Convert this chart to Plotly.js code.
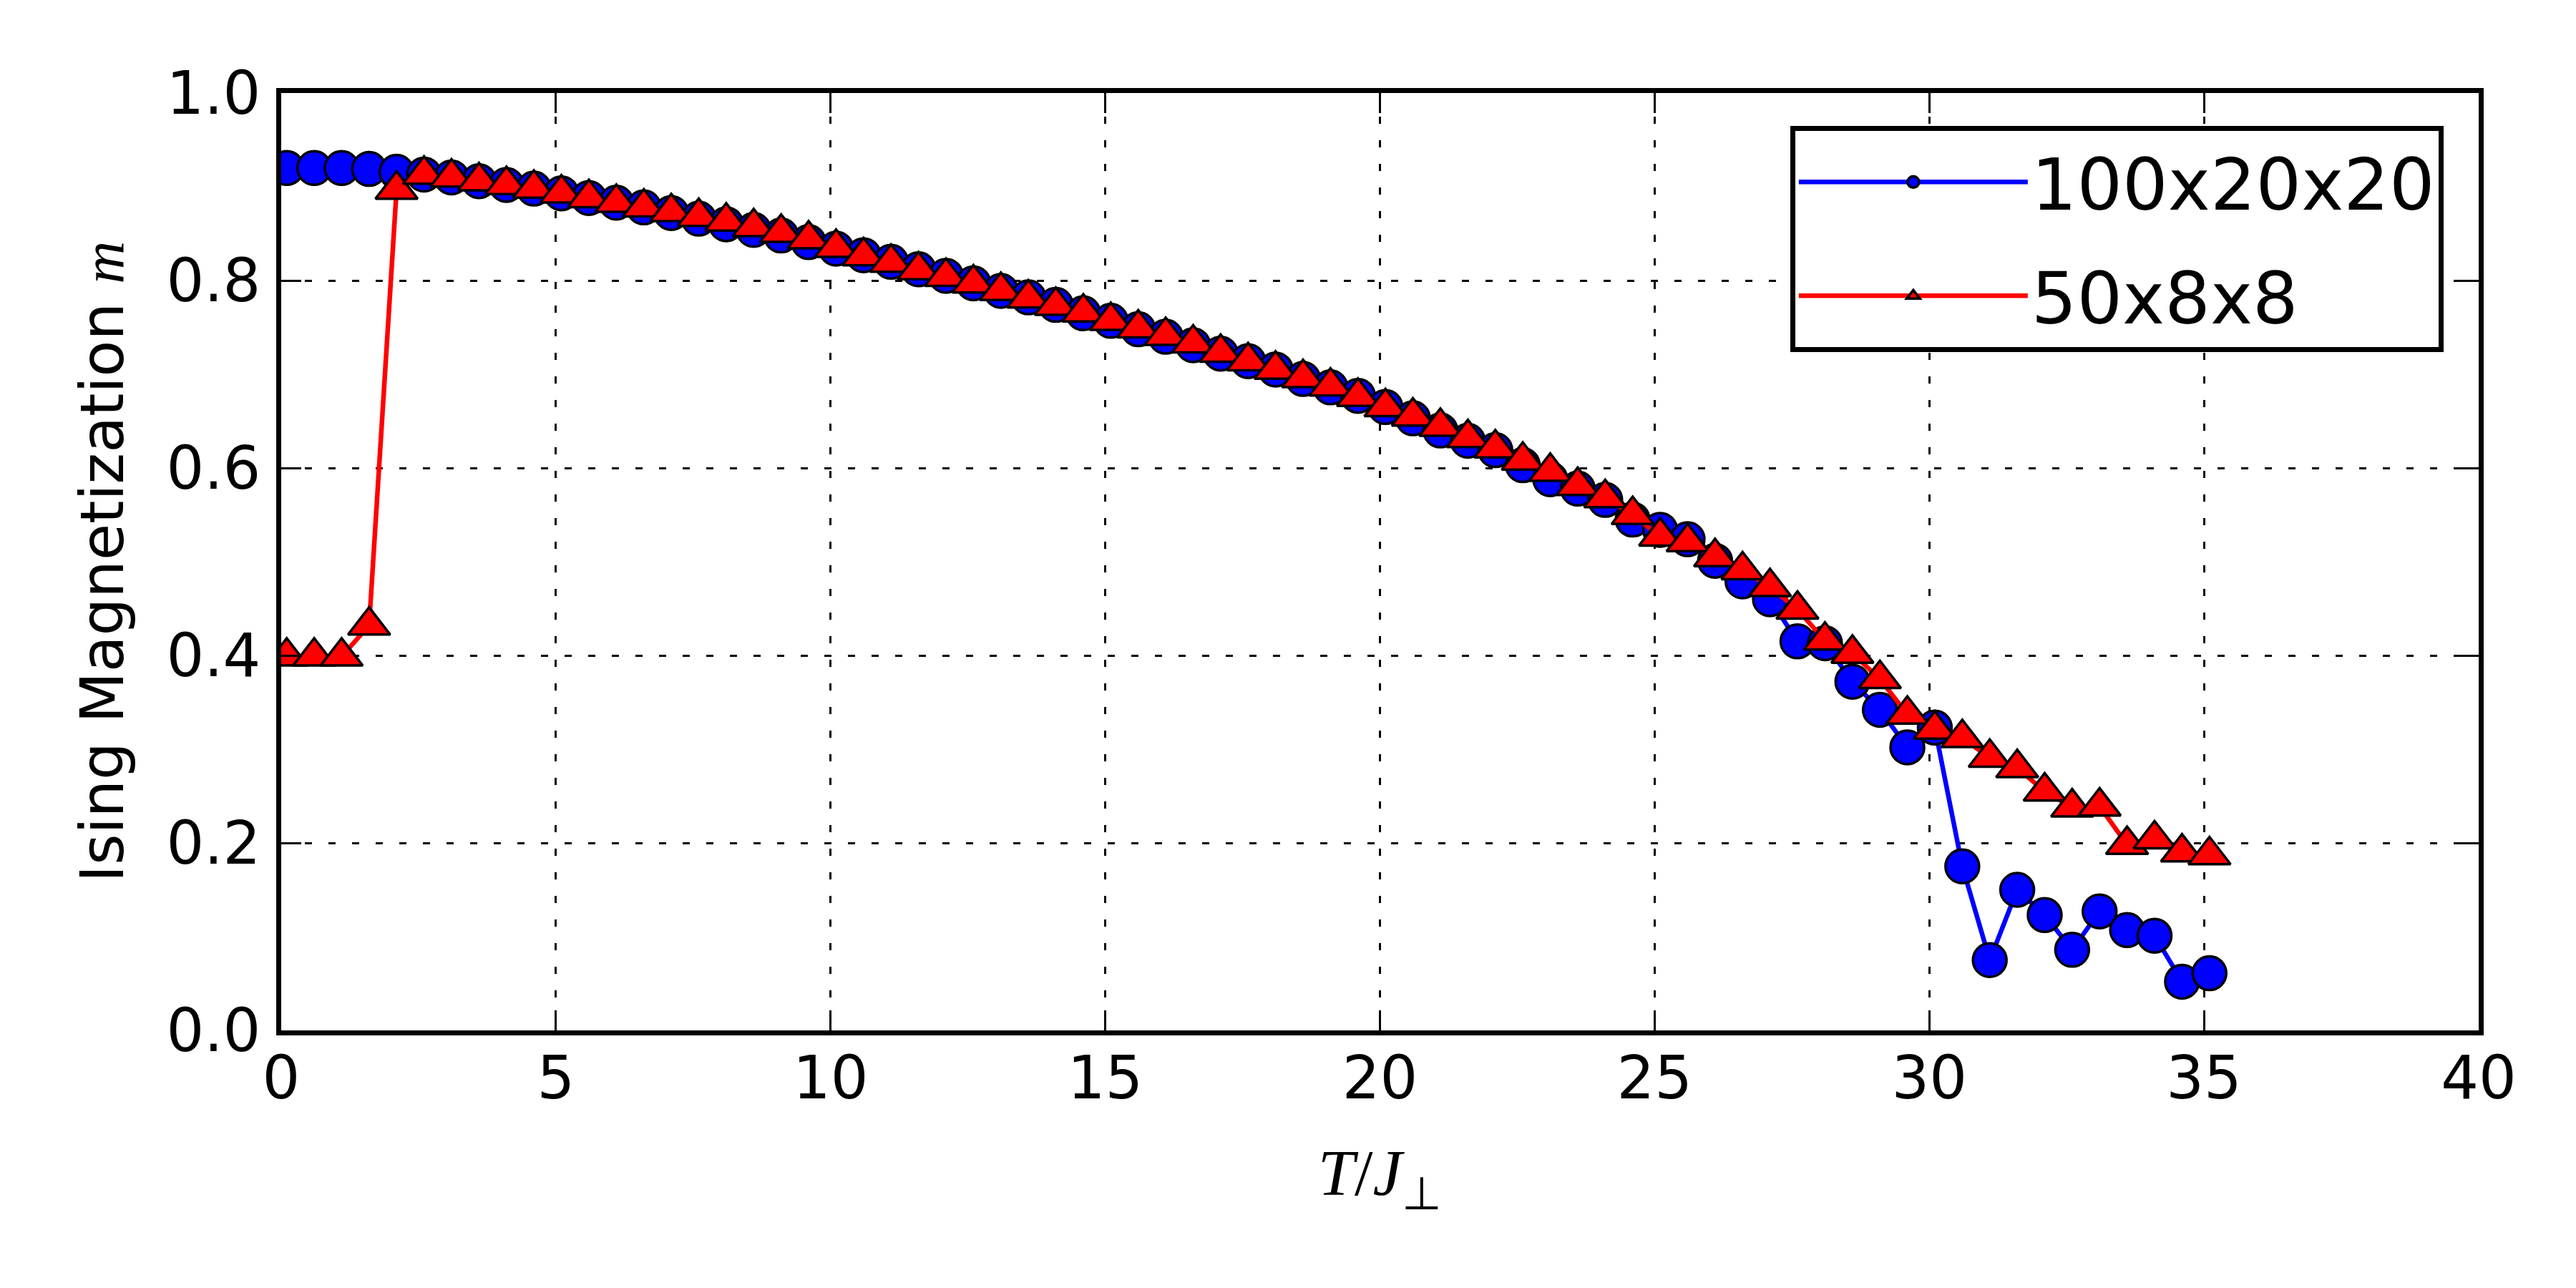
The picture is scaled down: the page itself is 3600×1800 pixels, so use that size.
<!DOCTYPE html>
<html>
<head>
<meta charset="utf-8">
<script src="https://cdn.plot.ly/plotly-3.0.1.min.js"></script>
<style>
  html, body { margin: 0; padding: 0; background: #ffffff; }
  #grafica { width: 3600px; height: 1800px; }
</style>
</head>
<body>
<div id="grafica"></div>
<script>
// temperaturas T/J (mismo barrido para las dos redes)
var temperaturas = [0.1, 0.6, 1.1, 1.6, 2.1, 2.6, 3.1, 3.6, 4.1, 4.6,
    5.1, 5.6, 6.1, 6.6, 7.1, 7.6, 8.1, 8.6, 9.1, 9.6,
    10.1, 10.6, 11.1, 11.6, 12.1, 12.6, 13.1, 13.6, 14.1, 14.6,
    15.1, 15.6, 16.1, 16.6, 17.1, 17.6, 18.1, 18.6, 19.1, 19.6,
    20.1, 20.6, 21.1, 21.6, 22.1, 22.6, 23.1, 23.6, 24.1, 24.6,
    25.1, 25.6, 26.1, 26.6, 27.1, 27.6, 28.1, 28.6, 29.1, 29.6,
    30.1, 30.6, 31.1, 31.6, 32.1, 32.6, 33.1, 33.6, 34.1, 34.6, 35.1];

// magnetizacion red 100x20x20
var mag_grande = [0.920, 0.920, 0.920, 0.919, 0.916, 0.913, 0.910, 0.906, 0.902, 0.898,
    0.893, 0.888, 0.883, 0.878, 0.872, 0.866, 0.860, 0.854, 0.848, 0.841,
    0.834, 0.827, 0.820, 0.812, 0.805, 0.797, 0.789, 0.782, 0.774, 0.765,
    0.757, 0.748, 0.740, 0.731, 0.722, 0.714, 0.705, 0.695, 0.686, 0.677,
    0.665, 0.653, 0.640, 0.629, 0.619, 0.603, 0.588, 0.578, 0.566, 0.545,
    0.534, 0.524, 0.501, 0.479, 0.460, 0.415, 0.413, 0.372, 0.342, 0.302,
    0.323, 0.175, 0.075, 0.150, 0.123, 0.086, 0.127, 0.107, 0.101, 0.052, 0.061];

// magnetizacion red 50x8x8
var mag_chica = [0.399, 0.399, 0.399, 0.432, 0.897, 0.913, 0.910, 0.906, 0.902, 0.898,
    0.893, 0.888, 0.883, 0.878, 0.873, 0.868, 0.863, 0.857, 0.851, 0.844,
    0.835, 0.826, 0.819, 0.811, 0.804, 0.797, 0.789, 0.781, 0.773, 0.766,
    0.757, 0.749, 0.741, 0.733, 0.723, 0.714, 0.705, 0.696, 0.687, 0.676,
    0.665, 0.655, 0.644, 0.632, 0.621, 0.608, 0.596, 0.581, 0.568, 0.550,
    0.527, 0.521, 0.505, 0.491, 0.473, 0.449, 0.416, 0.402, 0.375, 0.337,
    0.321, 0.312, 0.291, 0.280, 0.255, 0.238, 0.239, 0.198, 0.204, 0.190, 0.187];

var nombres = ['100x20x20', '50x8x8'];

function magnetizacion(){
    var traza_grande = {
        x: temperaturas,
        y: mag_grande,
        name: nombres[0],
        legendgroup: 'a',
        type: 'scatter',
        mode: 'lines+markers',
        line: { color: '#0000ff', width: 6.5 },
        marker: { symbol: 'circle', size: 47, color: '#0000ff', line: { color: '#000000', width: 3.5 } }
    };

    var traza_chica = {
        x: temperaturas,
        y: mag_chica,
        name: nombres[1],
        legendgroup: 'b',
        type: 'scatter',
        mode: 'lines+markers',
        line: { color: '#ff0000', width: 6.5 },
        marker: { symbol: 'triangle-up', size: 51, color: '#ff0000', line: { color: '#000000', width: 3.5 } }
    };

    var ejes = {
        ticks: 'inside', ticklen: 28, tickwidth: 3, tickcolor: '#000000',
        showline: true, linewidth: 7, linecolor: '#000000', mirror: 'ticks',
        showgrid: true, gridcolor: '#000000', gridwidth: 3, griddash: '10px,23px',
        zeroline: false,
        tickfont: { family: 'DejaVu Sans', size: 83, color: '#000000' }
    };

    var layout = {
        width: 3600,
        height: 1800,
        margin: { t: 130, b: 360, l: 393, r: 136 },
        paper_bgcolor: '#ffffff',
        plot_bgcolor: '#ffffff',
        font: { family: 'DejaVu Sans', size: 83, color: '#000000' },
        showlegend: true,
        legend: {
            x: 0.984, y: 0.965, xanchor: 'right', yanchor: 'top',
            bgcolor: '#ffffff', bordercolor: '#000000', borderwidth: 7,
            font: { family: 'DejaVu Sans', size: 100, color: '#000000' },
            traceorder: 'grouped', tracegroupgap: 26,
            itemwidth: 320
        },
        xaxis: Object.assign({}, ejes, {
            range: [0, 40], tick0: 0, dtick: 5,
            ticklabelstandoff: -12,
            title: { text: '<i>T</i>/<i>J</i><sub>⊥</sub>', standoff: 55,
                     font: { family: 'Liberation Serif', size: 92, color: '#000000' } }
        }),
        yaxis: Object.assign({}, ejes, {
            range: [0, 1], tick0: 0, dtick: 0.2, tickformat: '.1f',
            ticklabelstandoff: 5,
            title: { text: "Ising Magnetization <span style='font-family:Liberation Serif'><i>m</i></span>",
                     standoff: 35, font: { family: 'DejaVu Sans', size: 83, color: '#000000' } }
        })
    };

    Plotly.newPlot('grafica', [traza_grande, traza_chica], layout, { staticPlot: true });
}

magnetizacion();
</script>
</body>
</html>
